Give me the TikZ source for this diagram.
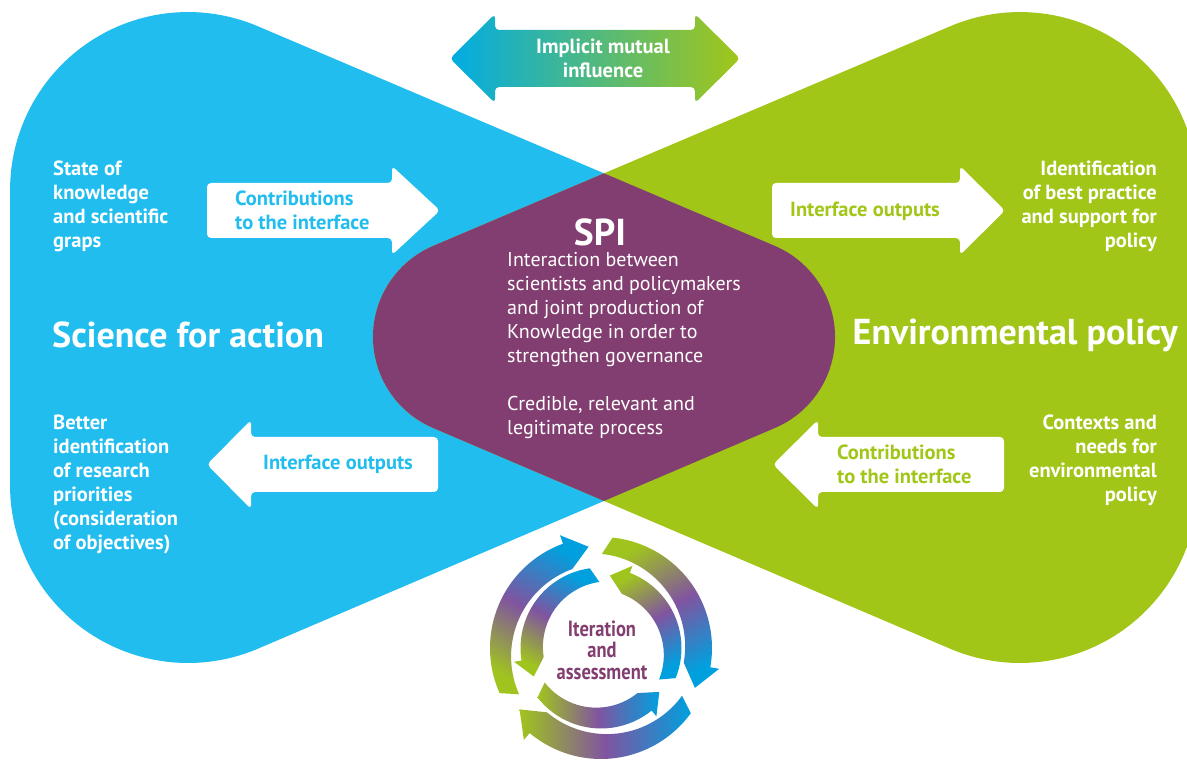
\documentclass[tikz,border=0pt]{standalone}
\usepackage{fontspec}
\setmainfont{PT Sans}
\newfontfamily\condfont[FakeStretch=0.84]{PT Sans}
\usetikzlibrary{calc}
\definecolor{sciblue}{RGB}{33,189,238}
\definecolor{envgreen}{RGB}{162,198,24}
\definecolor{spipurple}{RGB}{130,62,112}
\definecolor{ringgreen}{RGB}{160,196,30}
\definecolor{ringpurple}{RGB}{128,84,160}
\definecolor{ringblue}{RGB}{0,160,222}
\definecolor{mutualcyan}{RGB}{0,172,228}

\newcommand{\sidefont}{\fontsize{20.5}{24}\selectfont\bfseries}
\newcommand{\titlefont}{\fontsize{36}{40}\selectfont\bfseries}
\newcommand{\spifont}{\fontsize{37.5}{42}\selectfont\bfseries}
\newcommand{\bodyfont}{\fontsize{20}{24}\selectfont}

% the two lobes, as paths that can be filled or clipped
\newcommand{\blobsci}[1]{\path[#1] (257.6,735.8) arc[start angle=67,end angle=180,radius=178]
  -- (10,277) arc[start angle=180,end angle=293,radius=178]
  -- (774.7,333.9) arc[start angle=-67,end angle=67,radius=99] -- cycle;}
\newcommand{\blobenv}[1]{\path[#1] (950.4,735.8) arc[start angle=113,end angle=0,radius=178]
  -- (1198,277) arc[start angle=0,end angle=-113,radius=178]
  -- (433.3,333.9) arc[start angle=247,end angle=113,radius=99] -- cycle;}
% white block arrow: body end, head base, tip, centre height
\newcommand{\blockarrow}[4]{\fill[white,rounded corners=4pt]
  (#1,{#4-27.5}) -- (#2,{#4-27.5}) -- (#2,{#4-44.5}) -- (#3,#4)
  -- (#2,{#4+44.5}) -- (#2,{#4+27.5}) -- (#1,{#4+27.5}) -- cycle;}
% curved arrow of the cycle: radius, half width, half head, tail, head base, tip, shading angle
\newcommand{\ringarrow}[7]{\shade[ringshade,shading angle=#7]
  ({#4}:{#1+#2}) arc[start angle=#4,end angle=#5,radius={#1+#2}]
  -- ({#5}:{#1+#3}) -- ({#6}:{#1}) -- ({#5}:{#1-#3})
  arc[start angle=#5,end angle=#4,radius={#1-#2}] -- cycle;}

\begin{document}
\begin{tikzpicture}[x=1pt,y=1pt,
  sidetext/.style={text=white,font=\sidefont,align=left,inner sep=0pt},
  titletext/.style={text=white,font=\titlefont,inner sep=0pt},
  arrowtext/.style={font=\sidefont,align=left,inner sep=0pt},
  spitext/.style={text=white,font=\bodyfont,align=left,inner sep=0pt},
  itertext/.style={text=spipurple,font=\condfont\fontsize{22}{21.5}\selectfont\bfseries,
                   align=center,inner sep=0pt},
  ringshade/.style={left color=ringgreen,right color=ringblue,middle color=ringpurple}]
\useasboundingbox (0,0) rectangle (1187,762);
\clip (0,0) rectangle (1187,762);

\blobsci{fill=sciblue}
\blobenv{fill=envgreen}
\begin{scope}
  \blobsci{clip}
  \blobenv{fill=spipurple}
\end{scope}

\shade[left color=mutualcyan,right color=envgreen,rounded corners=4pt]
  (450,703.5) -- (495,748) -- (495,732) -- (695,732) -- (695,748) -- (740,703.5)
  -- (695,659) -- (695,675) -- (495,675) -- (495,659) -- cycle;
\node[arrowtext,text=white,align=center] (mutual) at (603,704) {Implicit mutual\\influence};

\blockarrow{207}{392}{440}{551.5}
\blockarrow{772}{960}{1005}{551.5}
\blockarrow{438}{251}{207}{297.5}
\blockarrow{1004}{818}{773}{297.5}

\node[sidetext,anchor=west] (knowstate) at (53,556) {State of\\knowledge\\and scientific\\graps};
\node[titletext,anchor=west] (scititle) at (52,427) {Science for action};
\node[sidetext,anchor=west] (priorities) at (53,278)
  {Better\\identification\\of research\\priorities\\(consideration\\of objectives)};
\node[sidetext,align=right,anchor=east] (bestpractice) at (1157,556)
  {Identification\\of best practice\\and support for\\policy};
\node[titletext,anchor=east] (envtitle) at (1178,427) {Environmental policy};
\node[sidetext,align=right,anchor=east] (needs) at (1157,302)
  {Contexts and\\needs for\hspace*{4pt}\\environmental\\policy};

\node[arrowtext,text=sciblue,anchor=west] (contribsci) at (235,552) {Contributions\\to the interface};
\node[arrowtext,text=envgreen,anchor=west] (outenv) at (790,551) {Interface outputs};
\node[arrowtext,text=sciblue,anchor=west] (outsci) at (263,298) {Interface outputs};
\node[arrowtext,text=envgreen,anchor=west] (contribenv) at (837,298) {Contributions\\to the interface};

\node[text=white,font=\spifont,inner sep=0pt] (spi) at (600,530) {SPI};
\node[spitext,anchor=west] (spibody) at (507,416)
  {Interaction between\\scientists and policymakers\\and joint production of\\Knowledge in order to\\strengthen governance\\[24pt]Credible, relevant and\\legitimate process};

\begin{scope}[shift={(601,114)}]
  \ringarrow{102}{9}{18}{204}{110}{97}{150}
  \ringarrow{102}{9}{18}{84}{-10}{-23}{30}
  \ringarrow{102}{9}{18}{-36}{-130}{-143}{90}
  \ringarrow{73}{7.5}{15}{98}{189}{203}{150}
  \ringarrow{73}{7.5}{15}{-22}{69}{83}{30}
  \ringarrow{73}{7.5}{15}{218}{309}{323}{90}
\end{scope}
\node[itertext] (iteration) at (602,112) {Iteration\\and\\assessment};
\end{tikzpicture}
\end{document}
